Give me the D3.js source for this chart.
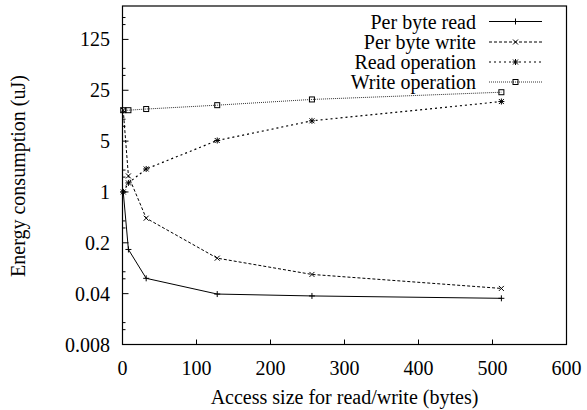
<!DOCTYPE html>
<html><head><meta charset="utf-8">
<script src="https://cdn.jsdelivr.net/npm/d3@7"></script>
<style>body{margin:0;background:#fff}svg{display:block}</style>
</head><body>
<script>
const sizes = [1, 8, 32, 128, 256, 512];
const perByteRead = [1, 0.162, 0.065, 0.0395, 0.0372, 0.0345];
const perByteWrite = [13.3, 1.66, 0.436, 0.123, 0.0735, 0.0472];
const readOperation = [1, 1.33, 2.07, 5.1, 9.5, 17.5];
const writeOperation = [13.3, 13.3, 13.8, 15.6, 18.7, 23.5];
const seriesNames = ["Per byte read", "Per byte write", "Read operation", "Write operation"];
const yTicks = [0.008, 0.04, 0.2, 1, 5, 25, 125];
const yTickLabels = ["0.008", "0.04", "0.2", "1", "5", "25", "125"];
const xTicks = [0, 100, 200, 300, 400, 500, 600];
const yMinorFactors = [1.6, 2];

const FONT = "Liberation Serif";
const FS = 20;
const W = 587, H = 410;
const m = {left: 122.5, right: 566.5, top: 6, bottom: 344.5};
const svg = d3.select("body").append("svg").attr("width", W).attr("height", H);
const x = d3.scaleLinear().domain([0, 600]).range([m.left, m.right]);
const y = d3.scaleLog().base(5).domain([0.008, 360]).range([m.bottom, m.top]);

function txt(sel) { return sel.append("text").attr("font-family", FONT).attr("font-size", FS).attr("fill", "#000"); }

// frame
svg.append("rect").attr("x", m.left).attr("y", m.top).attr("width", m.right - m.left)
  .attr("height", m.bottom - m.top).attr("fill", "none").attr("stroke", "#000").attr("stroke-width", 1.2);

// y ticks
const g = svg.append("g");
yTicks.forEach((t, i) => {
  g.append("line").attr("x1", m.left).attr("x2", m.left + 6).attr("y1", y(t)).attr("y2", y(t)).attr("stroke", "#000");
  txt(g).attr("x", 110).attr("y", y(t)).attr("dy", "0.35em").attr("text-anchor", "end").text(yTickLabels[i]);
  yMinorFactors.forEach(f => {
    const v = t * f;
    if (v < 360) g.append("line").attr("x1", m.left).attr("x2", m.left + 3).attr("y1", y(v)).attr("y2", y(v)).attr("stroke", "#000");
  });
});
// x ticks
xTicks.forEach(t => {
  g.append("line").attr("x1", x(t)).attr("x2", x(t)).attr("y1", m.bottom).attr("y2", m.bottom - 5).attr("stroke", "#000");
  txt(g).attr("x", x(t)).attr("y", 368).attr("dy", "0.35em").attr("text-anchor", "middle").text(t);
});
txt(svg).attr("x", (m.left + m.right) / 2).attr("y", 397).attr("dy", "0.35em")
  .attr("text-anchor", "middle").text("Access size for read/write (bytes)");
txt(svg).attr("transform", "translate(18,176) rotate(-90)").attr("dy", "0.35em")
  .attr("text-anchor", "middle").text("Energy consumption (uJ)");

// markers
function marker(sel, type, cx, cy) {
  const s = 3;
  if (type === "plus" || type === "star") {
    sel.append("path").attr("d", `M${cx - s},${cy}H${cx + s}M${cx},${cy - s}V${cy + s}`).attr("stroke", "#000").attr("fill", "none");
  }
  if (type === "cross" || type === "star") {
    sel.append("path").attr("d", `M${cx - 2.5},${cy - 2.5}L${cx + 2.5},${cy + 2.5}M${cx - 2.5},${cy + 2.5}L${cx + 2.5},${cy - 2.5}`).attr("stroke", "#000").attr("fill", "none");
  }
  if (type === "square") {
    sel.append("rect").attr("x", cx - 2.5).attr("y", cy - 2.5).attr("width", 5).attr("height", 5)
      .attr("fill", "none").attr("stroke", "#000");
  }
}

const series = [
  {name: seriesNames[0], vals: perByteRead, dash: null, marker: "plus", color: "#000", sw: 1},
  {name: seriesNames[1], vals: perByteWrite, dash: "3,2", marker: "cross", color: "#000", sw: 1},
  {name: seriesNames[2], vals: readOperation, dash: "2,3", marker: "star", color: "#000", sw: 1.2},
  {name: seriesNames[3], vals: writeOperation, dash: "1,1", marker: "square", color: "#333", sw: 1},
];
const line = d3.line().x(d => x(d[0])).y(d => y(d[1]));
const legendY = [21.5, 42, 62, 82];
series.forEach((s, i) => {
  const data = sizes.map((v, j) => [v, s.vals[j]]);
  const gs = svg.append("g");
  gs.append("path").attr("d", line(data)).attr("fill", "none").attr("stroke", s.color)
    .attr("stroke-width", s.sw).attr("stroke-dasharray", s.dash);
  data.forEach(d => marker(gs, s.marker, x(d[0]), y(d[1])));
  const ly = legendY[i];
  txt(svg).attr("x", 476).attr("y", ly).attr("dy", "0.35em").attr("text-anchor", "end").text(s.name);
  svg.append("line").attr("x1", 489).attr("x2", 542).attr("y1", ly).attr("y2", ly).attr("stroke", s.color)
    .attr("stroke-width", s.sw).attr("stroke-dasharray", s.dash);
  marker(svg, s.marker, 515.5, ly);
});
</script>
</body></html>
